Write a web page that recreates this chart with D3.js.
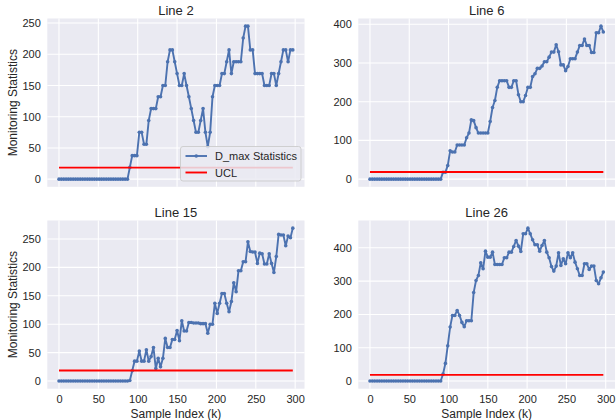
<!DOCTYPE html>
<html>
<head>
<meta charset="utf-8">
<script src="https://cdn.jsdelivr.net/npm/d3@7"></script>
<style>
  html, body { margin: 0; padding: 0; background: #ffffff; }
  svg { display: block; font-family: "Liberation Sans", Arial, sans-serif; }
</style>
</head>
<body>
<svg id="chart" width="616" height="420"></svg>
<script>
// Sample indices: every third sample from 0 to 297
const sampleIndex = d3.range(0, 300, 3);

const zeros30 = new Array(30).fill(0);

// D_max monitoring statistic per line
const line2 = zeros30.concat([
  18.8, 37.6, 37.6, 37.6, 75, 75, 56, 56, 94, 113,
  113, 113, 132, 132, 150, 150, 188, 207, 207, 188,
  169, 150, 150, 169, 150, 132, 113, 94, 75, 75,
  94, 113, 75, 52, 75, 132, 150, 150, 150, 169,
  169, 188, 207, 169, 188, 188, 188, 188, 226, 245,
  245, 207, 207, 169, 169, 169, 169, 150, 150, 150,
  169, 169, 150, 169, 188, 207, 207, 188, 207, 207
]);

const line6 = zeros30.concat([
  0, 18, 18, 35, 73, 70, 70, 88, 88, 88,
  88, 107, 119, 153, 151, 133, 119, 119, 119, 119,
  119, 149, 185, 203, 237, 254, 254, 254, 254, 237,
  237, 254, 254, 218, 200, 200, 216, 237, 237, 265,
  272, 286, 286, 292, 303, 303, 315, 328, 328, 347,
  329, 295, 295, 280, 291, 311, 311, 311, 328, 345,
  345, 362, 345, 345, 327, 327, 378, 378, 395, 380
]);

const line15 = zeros30.concat([
  1, 18, 35, 35, 53, 35, 35, 55, 35, 43,
  59, 22, 40, 25, 40, 75, 59, 59, 73, 73,
  89, 71, 106, 88, 88, 103, 103, 102, 102, 102,
  101, 101, 101, 84, 100, 100, 137, 119, 137, 154,
  154, 137, 122, 140, 173, 157, 194, 194, 210, 210,
  245, 228, 227, 227, 207, 225, 224, 206, 206, 224,
  207, 191, 219, 258, 257, 257, 238, 255, 252, 269
]);

const line26 = zeros30.concat([
  0, 21, 53, 106, 162, 197, 197, 212, 197, 176,
  163, 181, 181, 181, 266, 302, 317, 355, 337, 390,
  372, 372, 387, 350, 350, 350, 350, 370, 370, 387,
  387, 404, 422, 405, 389, 442, 442, 459, 442, 424,
  409, 409, 390, 407, 422, 387, 370, 344, 330, 345,
  385, 347, 367, 352, 385, 370, 385, 357, 337, 317,
  317, 352, 352, 335, 345, 345, 302, 292, 310, 327
]);

// Upper control limit
const ucl = 18.5;

const panelTitles = ["Line 2", "Line 6", "Line 15", "Line 26"];
const panelSeries = [line2, line6, line15, line26];

// Tick labels
const xTicks = [0, 50, 100, 150, 200, 250, 300];
const yTicksByPanel = [
  [0, 50, 100, 150, 200, 250],
  [0, 100, 200, 300, 400],
  [0, 50, 100, 150, 200, 250],
  [0, 100, 200, 300, 400]
];

const legendLabels = ["D_max Statistics", "UCL"];
const yLabel = "Monitoring Statistics";
const xLabel = "Sample Index (k)";

// Styling
const BLUE = "#4C72B0";
const RED = "#ff0000";
const PANEL_BG = "#EAEAF2";
const TEXT = "#262626";
const FONT = '"Liberation Sans", Arial, sans-serif';

const svg = d3.select("#chart");

// Panel frames: [left, top, right, bottom]
const frames = [
  [47.3, 18.5, 304.5, 186.8],
  [358.3, 18.5, 615, 186.8],
  [47.3, 220.5, 304.5, 388.7],
  [358.3, 220.5, 615, 388.7]
];

// matplotlib-style auto limits with 5% margins
function padded(lo, hi) {
  const m = (hi - lo) * 0.05;
  return [lo - m, hi + m];
}

panelSeries.forEach((values, p) => {
  const [L, T, R, B] = frames[p];
  const xExt = d3.extent(sampleIndex);
  const yMax = Math.max(d3.max(values), ucl);
  const yMin = Math.min(d3.min(values), ucl);

  const x = d3.scaleLinear().domain(padded(xExt[0], xExt[1])).range([L, R]);
  const y = d3.scaleLinear().domain(padded(yMin, yMax)).range([B, T]);

  const g = svg.append("g");

  g.append("rect")
    .attr("x", L).attr("y", T)
    .attr("width", R - L).attr("height", B - T)
    .attr("fill", PANEL_BG);

  // Grid
  const grid = g.append("g");
  grid.selectAll("line.vx").data(xTicks).join("line")
    .attr("x1", d => x(d)).attr("x2", d => x(d))
    .attr("y1", T).attr("y2", B)
    .attr("stroke", "#ffffff").attr("stroke-width", 1.1);
  grid.selectAll("line.hy").data(yTicksByPanel[p]).join("line")
    .attr("x1", L).attr("x2", R)
    .attr("y1", d => y(d)).attr("y2", d => y(d))
    .attr("stroke", "#ffffff").attr("stroke-width", 1.1);

  // Y axis labels
  const yAxis = d3.axisLeft(y).tickValues(yTicksByPanel[p]).tickSize(0).tickPadding(6.5);
  const ya = g.append("g").attr("transform", `translate(${L},0)`).call(yAxis);
  ya.select(".domain").remove();
  ya.selectAll("text").attr("fill", TEXT).style("font-size", "11px")
    .style("font-family", FONT);

  // X axis labels on the bottom row only
  if (p >= 2) {
    const xAxis = d3.axisBottom(x).tickValues(xTicks).tickSize(0).tickPadding(6.5);
    const xa = g.append("g").attr("transform", `translate(0,${B})`).call(xAxis);
    xa.select(".domain").remove();
    xa.selectAll("text").attr("fill", TEXT).style("font-size", "11px")
      .style("font-family", FONT);

    g.append("text")
      .attr("x", (L + R) / 2).attr("y", 417.5)
      .attr("text-anchor", "middle")
      .attr("fill", TEXT).style("font-size", "12px")
      .text(xLabel);
  }

  // Y label on the left column
  if (p % 2 === 0) {
    g.append("text")
      .attr("transform", `translate(17,${(T + B) / 2}) rotate(-90)`)
      .attr("text-anchor", "middle")
      .attr("fill", TEXT).style("font-size", "12px")
      .text(yLabel);
  }

  // Title
  g.append("text")
    .attr("x", (L + R) / 2).attr("y", T - 4)
    .attr("text-anchor", "middle")
    .attr("fill", TEXT).style("font-size", "13px")
    .text(panelTitles[p]);

  // Statistic line with markers
  const pts = sampleIndex.map((k, i) => [k, values[i]]);
  g.append("path")
    .datum(pts)
    .attr("d", d3.line().x(d => x(d[0])).y(d => y(d[1])))
    .attr("fill", "none").attr("stroke", BLUE)
    .attr("stroke-width", 1.9).attr("stroke-linejoin", "round");
  g.selectAll("circle.pt").data(pts).join("circle")
    .attr("cx", d => x(d[0])).attr("cy", d => y(d[1]))
    .attr("r", 1.8).attr("fill", BLUE);

  // UCL
  g.append("line")
    .attr("x1", x(xExt[0])).attr("x2", x(xExt[1]))
    .attr("y1", y(ucl)).attr("y2", y(ucl))
    .attr("stroke", RED).attr("stroke-width", 1.9);

  // Legend on the first panel
  if (p === 0) {
    const lx = 180.5, ly = 146.5, lw = 120.5, lh = 34.5;
    const lg = g.append("g");
    lg.append("rect")
      .attr("x", lx).attr("y", ly).attr("width", lw).attr("height", lh)
      .attr("rx", 2.5).attr("ry", 2.5)
      .attr("fill", PANEL_BG).attr("fill-opacity", 0.85)
      .attr("stroke", "#cccccc").attr("stroke-width", 0.9);
    const rows = [ly + 9.5, ly + 26];
    lg.append("line")
      .attr("x1", lx + 5).attr("x2", lx + 26.5)
      .attr("y1", rows[0]).attr("y2", rows[0])
      .attr("stroke", BLUE).attr("stroke-width", 1.9);
    lg.append("circle")
      .attr("cx", lx + 15.75).attr("cy", rows[0]).attr("r", 1.8).attr("fill", BLUE);
    lg.append("line")
      .attr("x1", lx + 5).attr("x2", lx + 26.5)
      .attr("y1", rows[1]).attr("y2", rows[1])
      .attr("stroke", RED).attr("stroke-width", 1.9);
    legendLabels.forEach((t, i) => {
      lg.append("text")
        .attr("x", lx + 34.5).attr("y", rows[i] + 4)
        .attr("fill", TEXT).style("font-size", "11px")
        .text(t);
    });
  }
});
</script>
</body>
</html>
